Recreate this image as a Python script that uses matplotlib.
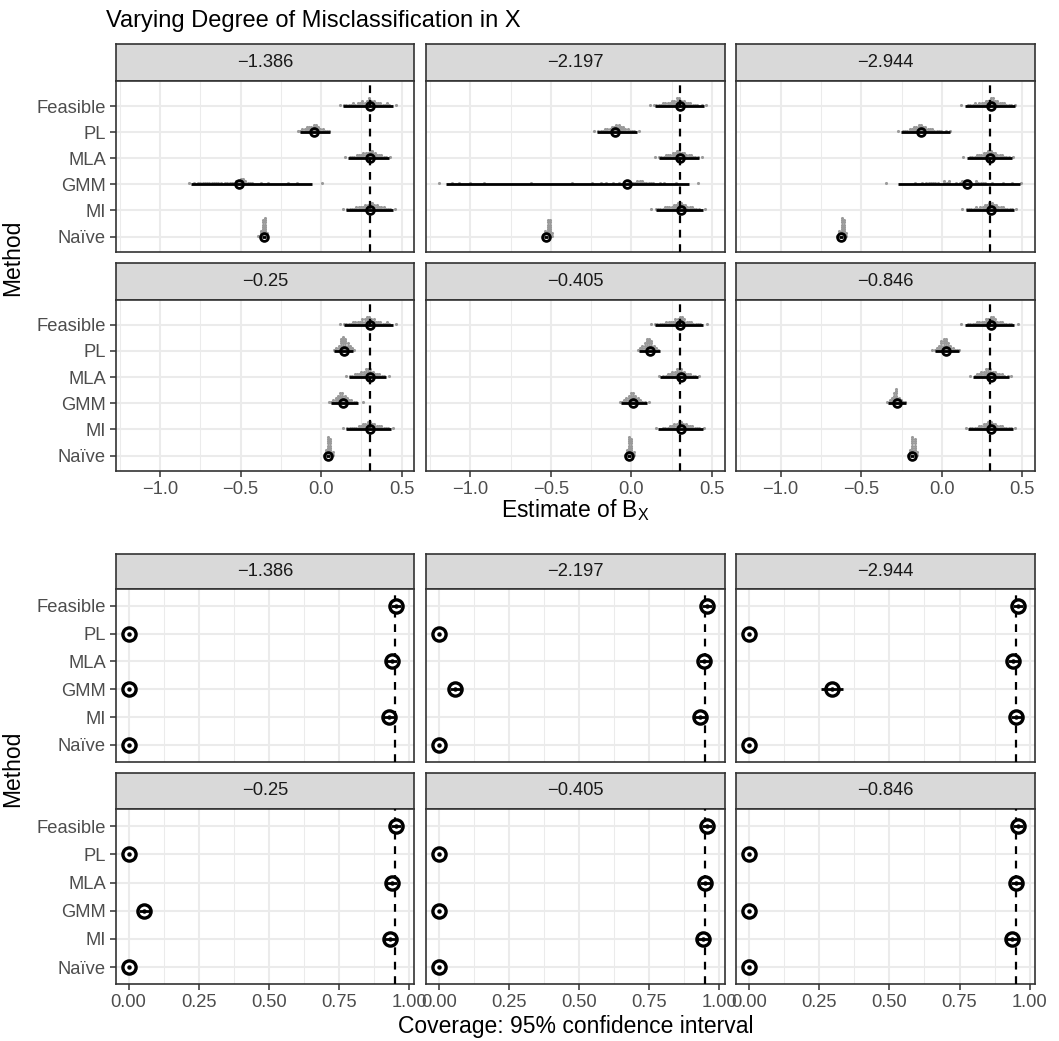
import numpy as np
import matplotlib.pyplot as plt
from matplotlib.ticker import FixedLocator

# %% data

methods = ["Feasible", "PL", "MLA", "GMM", "MI", "Naïve"]
panels = ["\u22121.386", "\u22122.197", "\u22122.944", "\u22120.25", "\u22120.405", "\u22120.846"]
true_beta = 0.3
nominal = 0.95

# estimate of B_X: mean and interval per panel (rows) and method (cols)
est_mean = [[0.301, -0.045, 0.305, -0.510, 0.301, -0.355],
            [0.303, -0.100, 0.303, -0.028, 0.305, -0.528],
            [0.303, -0.127, 0.299, 0.154, 0.307, -0.623],
            [0.301, 0.141, 0.301, 0.135, 0.305, 0.042],
            [0.303, 0.113, 0.305, 0.009, 0.309, -0.015],
            [0.303, 0.028, 0.307, -0.280, 0.303, -0.183]]
est_lo = [[0.135, -0.133, 0.166, -0.805, 0.152, -0.365],
          [0.144, -0.211, 0.169, -1.148, 0.150, -0.540],
          [0.142, -0.251, 0.158, -0.270, 0.148, -0.635],
          [0.141, 0.079, 0.172, 0.059, 0.156, 0.030],
          [0.144, 0.045, 0.179, -0.063, 0.164, -0.027],
          [0.142, -0.044, 0.193, -0.332, 0.164, -0.195]]
est_hi = [[0.445, 0.053, 0.420, -0.057, 0.445, -0.345],
          [0.449, 0.037, 0.418, 0.356, 0.447, -0.516],
          [0.452, 0.049, 0.433, 0.483, 0.448, -0.611],
          [0.445, 0.197, 0.404, 0.228, 0.435, 0.054],
          [0.447, 0.175, 0.415, 0.099, 0.443, -0.003],
          [0.448, 0.107, 0.417, -0.224, 0.443, -0.171]]

# gray dotplots: first bin centre and stack height per bin (bin width 0.014)
bin_w = 0.014
dot_start = [[0.115, -0.145, 0.150, -0.820, 0.135, -0.390],
             [0.113, -0.234, 0.144, -1.195, 0.123, -0.548],
             [0.121, -0.270, 0.134, -0.348, 0.127, -0.650],
             [0.115, 0.080, 0.152, 0.048, 0.135, 0.015],
             [0.119, 0.040, 0.170, -0.073, 0.154, -0.043],
             [0.121, -0.059, 0.175, -0.338, 0.148, -0.211]]
dot_counts = [
    ["10111121223234332221121001", "112233344322111", "101112223334432221101",
     "101011111111111011111223321110001001000000001000100000000001",
     "101111222233443322211101", "13892"],
    ["10111122223344332221110101", "101112223344332211101", "1011122233443322211101",
     "100000100100001000001000000000000000000001000000000000000001"
     "00000000100010100100101011112221111100101000010000000001",
     "1011112222334433222111001", "13882"],
    ["1001112122233443322211101", "101112233443322211110101", "10011122233443322211101",
     "1000000000000100101111110021200101221210211110010000100010001",
     "1011112122334433222111101", "13982"],
    ["10111122223344332221121001", "1236764321", "10112223344432221101",
     "1123455432211001", "10111112233443322211101", "13982"],
    ["10111112222334432221111001", "1234665321", "1011223344432221101",
     "11234554321101", "1001112233443322211101", "13982"],
    ["10011112222334432221111001", "1123566432111", "1012233444332221011",
     "123573211", "10111122334433222111101", "13982"],
]

# coverage of 95% CI: estimate and half-width of its interval
cov_mean = [[0.954, 0.0, 0.938, 0.0, 0.930, 0.0],
            [0.956, 0.0, 0.946, 0.058, 0.932, 0.0],
            [0.958, 0.0, 0.942, 0.296, 0.952, 0.0],
            [0.954, 0.0, 0.938, 0.056, 0.932, 0.0],
            [0.956, 0.0, 0.950, 0.0, 0.942, 0.0],
            [0.958, 0.0, 0.952, 0.0, 0.938, 0.0]]
cov_half = [[0.019, 0.0, 0.021, 0.0, 0.022, 0.0],
            [0.018, 0.0, 0.020, 0.020, 0.022, 0.0],
            [0.018, 0.0, 0.021, 0.040, 0.019, 0.0],
            [0.019, 0.0, 0.021, 0.020, 0.022, 0.0],
            [0.018, 0.0, 0.019, 0.0, 0.021, 0.0],
            [0.018, 0.0, 0.019, 0.0, 0.021, 0.0]]

# %% style

W, H = 1059, 1041
fs_tick = 13.2
fs_strip = 13.2
fs_lab = 16.5
fs_title = 17
grid_col = "#EBEBEB"
frame_col = "#333333"

plt.rcParams["font.family"] = ["Liberation Sans", "DejaVu Sans"]

fig = plt.figure(figsize=(W / 100, H / 100), dpi=100)


def px_axes(x0, x1, y0, y1):
    return fig.add_axes([x0 / W, 1 - y1 / H, (x1 - x0) / W, (y1 - y0) / H])


cols = [(115.7, 414.3), (426.0, 724.6), (736.3, 1035.0)]
top_rows = [((44.3, 81.0), (81.0, 252.0)), ((263.0, 299.7), (299.7, 471.0))]
bot_rows = [((554.3, 589.0), (589.0, 761.6)), ((772.6, 809.3), (809.3, 984.0))]

ypos = np.arange(len(methods))[::-1] + 1.0


def strip(x, ys, label):
    s = px_axes(x[0], x[1], ys[0], ys[1])
    s.set_facecolor("#D9D9D9")
    s.set_xticks([])
    s.set_yticks([])
    for sp in s.spines.values():
        sp.set_color(frame_col)
        sp.set_linewidth(1.2)
    s.text(0.5, 0.5, label, ha="center", va="center", fontsize=fs_strip,
           color="#1A1A1A", transform=s.transAxes)


def style_panel(ax, xlim, ylim, major, minor, show_x, show_y, xfmt):
    ax.set_xlim(xlim)
    ax.set_ylim(ylim)
    ax.xaxis.set_major_locator(FixedLocator(major))
    ax.xaxis.set_minor_locator(FixedLocator(minor))
    ax.set_yticks(ypos)
    ax.grid(which="major", color=grid_col, lw=1.5, zorder=0)
    ax.grid(which="minor", axis="x", color=grid_col, lw=0.75, zorder=0)
    ax.set_axisbelow(True)
    for sp in ax.spines.values():
        sp.set_color(frame_col)
        sp.set_linewidth(1.2)
    ax.tick_params(which="major", length=4, width=1.1, color=frame_col,
                   labelsize=fs_tick, labelcolor="#4D4D4D", pad=3)
    ax.tick_params(which="minor", length=0)
    if show_y:
        ax.set_yticklabels(methods)
    else:
        ax.tick_params(axis="y", length=0, labelleft=False)
    if show_x:
        ax.set_xticklabels([xfmt(v).replace("-", "\u2212") for v in major])
    else:
        ax.tick_params(axis="x", length=0, labelbottom=False)


# %% top section: estimates

for p in range(6):
    r, c = divmod(p, 3)
    strip(cols[c], top_rows[r][0], panels[p])
    ax = px_axes(cols[c][0], cols[c][1], top_rows[r][1][0], top_rows[r][1][1])
    style_panel(ax, (-1.275, 0.578), (0.41, 6.96), [-1.0, -0.5, 0.0, 0.5],
                [-1.25, -0.75, -0.25, 0.25], r == 1, c == 0, lambda v: f"{v:.1f}")

    dx, dy = [], []
    for m in range(6):
        for j, ch in enumerate(dot_counts[p][m]):
            for k in range(int(ch)):
                dx.append(dot_start[p][m] + j * bin_w)
                dy.append(ypos[m] + (k + 0.45) * 0.085)
    ax.scatter(dx, dy, s=5.0, color="#9A9A9A", lw=0, zorder=2)

    ax.axvline(true_beta, color="black", lw=1.6, ls=(0, (3.5, 3)), zorder=3)
    ax.hlines(ypos, est_lo[p], est_hi[p], color="black", lw=2.0, zorder=4)
    ax.plot(est_mean[p], ypos, "o", ms=5.6, mfc="none", mec="black", mew=2.0, zorder=5)

fig.text(575.4 / W, 1 - 510 / H, r"Estimate of $\mathregular{B_X}$", ha="center",
         va="center", fontsize=fs_lab)
fig.text(13 / W, 1 - 257.7 / H, "Method", rotation=90, ha="center", va="center",
         fontsize=fs_lab)
fig.text(106 / W, 1 - 21 / H, "Varying Degree of Misclassification in X",
         ha="left", va="center", fontsize=fs_title)

# %% bottom section: coverage

for p in range(6):
    r, c = divmod(p, 3)
    strip(cols[c], bot_rows[r][0], panels[p])
    ax = px_axes(cols[c][0], cols[c][1], bot_rows[r][1][0], bot_rows[r][1][1])
    style_panel(ax, (-0.046, 1.019), (0.4, 6.6), [0.0, 0.25, 0.5, 0.75, 1.0],
                [0.125, 0.375, 0.625, 0.875], r == 1, c == 0, lambda v: f"{v:.2f}")

    ax.axvline(nominal, color="black", lw=1.6, ls=(0, (3.5, 3)), zorder=3)
    lo = np.array(cov_mean[p]) - np.array(cov_half[p])
    hi = np.array(cov_mean[p]) + np.array(cov_half[p])
    ax.plot(cov_mean[p], ypos, "o", ms=9.5, mfc="white", mec="black", mew=2.4, zorder=5)
    ax.plot(cov_mean[p], ypos, "o", ms=2.2, color="black", zorder=6)
    ax.hlines(ypos, lo, hi, color="black", lw=2.0, zorder=7)

fig.text(575.4 / W, 1 - 1026 / H, "Coverage: 95% confidence interval", ha="center",
         va="center", fontsize=fs_lab)
fig.text(13 / W, 1 - 769 / H, "Method", rotation=90, ha="center", va="center",
         fontsize=fs_lab)

fig.savefig("out.png", dpi=100)
